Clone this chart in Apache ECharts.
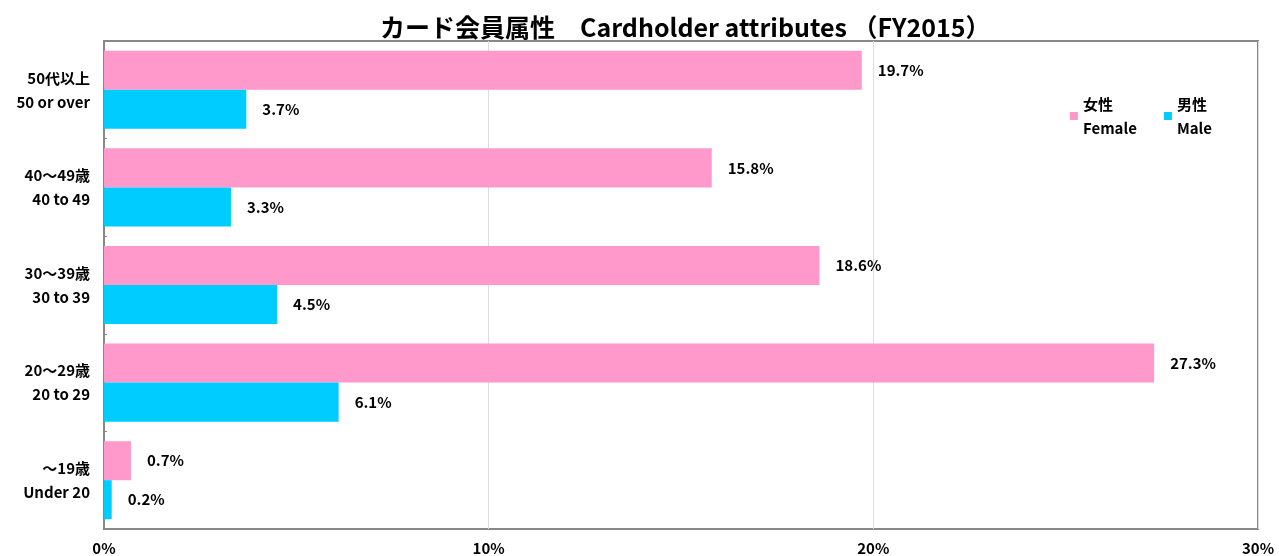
<!DOCTYPE html>
<html>
<head>
<meta charset="utf-8">
<script src="https://cdn.jsdelivr.net/npm/echarts@6/dist/echarts.min.js"></script>
<style>
html,body{margin:0;padding:0;background:#fff;}
#chart{width:1279px;height:556px;}
</style>
</head>
<body>
<div id="chart"></div>
<script>
var categories = ['～19歳\nUnder 20', '20～29歳\n20 to 29', '30～39歳\n30 to 39', '40～49歳\n40 to 49', '50代以上\n50 or over'];
var female = [0.7, 27.3, 18.6, 15.8, 19.7];
var male = [0.2, 6.1, 4.5, 3.3, 3.7];
var femaleName = '女性\nFemale';
var maleName = '男性\nMale';

var font = '"Noto Sans CJK JP", "Liberation Sans", sans-serif';

var myChart = echarts.init(document.getElementById('chart'));
var labelOpt = {
	show : true,
	position : 'right',
	distance : 16,
	color : '#000',
	fontSize : 15,
	fontWeight : 'bold',
	fontFamily : font,
	formatter : function(p) {
		return p.value.toFixed(1) + '%';
	}
};
var option = {
	backgroundColor : '#fff',
	animation : false,
	title : {
		text : 'カード会員属性　Cardholder attributes （FY2015）',
		left : 375,
		top : 10,
		textStyle : {
			fontFamily : font,
			fontSize : 25,
			fontWeight : 'bold',
			color : '#000'
		}
	},
	legend : {
		data : [femaleName, maleName],
		right : 62,
		top : 87,
		itemWidth : 8,
		itemHeight : 8,
		itemGap : 27,
		icon : 'rect',
		align : 'left',
		textStyle : {
			fontFamily : font,
			fontSize : 15,
			color : '#000',
			lineHeight : 24,
			fontWeight : 'bold'
		}
	},
	grid : {
		left : 104,
		right : 21,
		top : 41,
		bottom : 27,
		show : true,
		borderColor : '#888',
		borderWidth : 2
	},
	xAxis : {
		type : 'value',
		min : 0,
		max : 30,
		interval : 10,
		axisLine : { show : false },
		axisTick : { show : false },
		splitLine : { show : true, lineStyle : { color : '#ddd', width : 1 } },
		axisLabel : {
			formatter : '{value}%',
			color : '#000',
			fontSize : 15,
			fontWeight : 'bold',
			fontFamily : font,
			margin : 12
		}
	},
	yAxis : {
		type : 'category',
		data : categories,
		axisLine : { show : true, lineStyle : { color : '#888', width : 2 } },
		axisTick : { show : true, inside : true, length : 3, lineStyle : { color : '#888' } },
		axisLabel : {
			color : '#000',
			fontSize : 15,
			fontFamily : font,
			lineHeight : 24,
			margin : 14,
			fontWeight : 'bold'
		}
	},
	series : [ {
		name : femaleName,
		type : 'bar',
		data : female,
		barGap : '0%',
		barCategoryGap : '20%',
		itemStyle : { color : '#FF99CC' },
		label : labelOpt
	}, {
		name : maleName,
		type : 'bar',
		data : male,
		barGap : '0%',
		barCategoryGap : '20%',
		itemStyle : { color : '#00CCFF' },
		label : labelOpt
	} ]
};
myChart.setOption(option);
window.onresize = function() {
	myChart.resize();
};
</script>
</body>
</html>
